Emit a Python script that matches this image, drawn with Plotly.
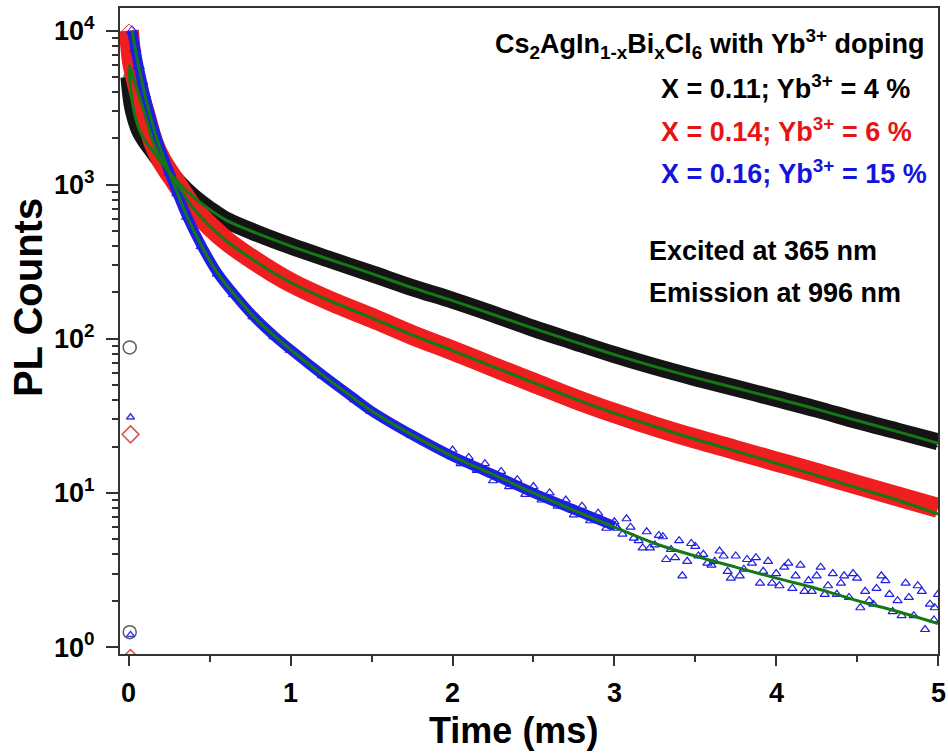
import plotly.graph_objects as go

# values (time in ms, PL counts)
black_t = [0.0, 0.02, 0.04, 0.07, 0.1, 0.15, 0.2, 0.3, 0.4, 0.5, 0.6, 0.8, 1.0, 1.25, 1.5, 1.75,
           2.0, 2.25, 2.5, 2.75, 3.0, 3.25, 3.5, 3.75, 4.0, 4.25, 4.5, 4.75, 5.0]
black_y = [5000, 3300, 2700, 2200, 1950, 1650, 1400, 1050, 830, 690, 590, 480, 400, 325, 265, 215,
           178, 145, 117, 96, 79, 66, 56, 48, 41, 35, 29.5, 25.2, 21.5]
black_fit_y = [5600, 3500, 2750, 2200, 1930, 1640, 1400, 1050, 830, 690, 590, 480, 400, 325, 265, 215,
               177, 144, 117, 96, 79, 66, 56, 48, 41, 35, 29.5, 25, 21]

red_t = [0.0, 0.01, 0.02, 0.04, 0.07, 0.1, 0.15, 0.2, 0.3, 0.4, 0.5, 0.6, 0.8, 1.0, 1.25, 1.5, 1.75,
         2.0, 2.25, 2.5, 2.75, 3.0, 3.25, 3.5, 3.75, 4.0, 4.25, 4.5, 4.75, 5.0]
red_y = [10000, 7600, 6200, 5000, 3700, 2900, 1900, 1450, 1000, 700, 540, 435, 310, 232, 175, 137, 106,
         84, 66, 52, 41, 33, 27, 22.5, 19, 16, 13.5, 11.3, 9.5, 8]
red_fit_y = [6000, 5600, 5200, 4500, 3600, 2850, 1900, 1450, 1000, 700, 540, 435, 310, 232, 175, 137, 106,
             84, 66, 52, 41, 33, 27, 22.3, 18.7, 15.6, 13, 10.8, 9, 7.3]

blue_t = [0.02, 0.04, 0.06, 0.08, 0.1, 0.13, 0.16, 0.2, 0.25, 0.3, 0.36, 0.45, 0.55, 0.65, 0.77, 0.9,
          1.0, 1.2, 1.4, 1.5, 1.75, 2.0, 2.25, 2.5, 2.75, 3.0]
blue_y = [10000, 7600, 5900, 4700, 3800, 2850, 2200, 1650, 1200, 880, 620, 400, 265, 195, 140, 104,
          85, 58, 40.5, 34, 23.8, 17.3, 13.2, 10, 7.8, 6.1]
blue_fit_t = [0.02, 0.04, 0.06, 0.08, 0.1, 0.13, 0.16, 0.2, 0.25, 0.3, 0.36, 0.45, 0.55, 0.65, 0.77, 0.9,
              1.0, 1.2, 1.4, 1.5, 1.75, 2.0, 2.25, 2.5, 2.75, 3.0, 3.25, 3.5, 3.75, 4.0, 4.25, 4.5,
              4.75, 5.0]
blue_fit_y = [10000, 7600, 5900, 4700, 3800, 2850, 2200, 1650, 1200, 880, 620, 400, 265, 195, 140, 104,
              85, 58, 40.5, 34, 23.8, 17.3, 13.2, 10, 7.7, 6.0, 4.7, 3.9, 3.3, 2.8, 2.4, 2.0, 1.7, 1.42]

# noisy tail of the blue decay
blue_tail_t = [2.0, 2.05, 2.1, 2.15, 2.2, 2.25, 2.3, 2.35, 2.4, 2.45, 2.5, 2.55, 2.6, 2.65, 2.7,
               2.75, 2.8, 2.85, 2.9, 2.95,
               3.0, 3.05, 3.1, 3.15, 3.2, 3.25, 3.3, 3.35, 3.4, 3.45, 3.5, 3.55, 3.6, 3.65, 3.7,
               3.75, 3.8, 3.85, 3.9, 3.95, 4.0, 4.05, 4.1, 4.15, 4.2, 4.25, 4.3, 4.35, 4.4, 4.45,
               4.5, 4.55, 4.6, 4.65, 4.7, 4.75, 4.8, 4.85, 4.9, 4.95, 5.0,
               3.02, 3.12, 3.22, 3.32, 3.42, 3.52, 3.62, 3.72, 3.82, 3.92, 4.02, 4.12, 4.22, 4.32,
               4.42, 4.52, 4.62, 4.72, 4.82, 4.92, 4.98,
               3.075, 3.175, 3.275, 3.375, 3.475, 3.575, 3.675, 3.775, 3.875, 3.975, 4.075, 4.175,
               4.275, 4.375, 4.475, 4.575, 4.675, 4.775, 4.875, 4.975]
blue_tail_y = [19, 15.5, 17, 14, 15.5, 12, 13.8, 11, 12.2, 9.8, 11, 9, 10, 8.2, 9,
               7.2, 8.2, 6.6, 7.4, 5.9,
               6.5, 5.4, 6.0, 4.9, 5.6, 4.6, 5.2, 4.3, 4.9, 3.6, 4.5, 4.0, 3.4, 4.2, 3.1,
               3.9, 3.2, 3.5, 2.6, 3.6, 3.0, 3.3, 2.4, 3.4, 2.7, 2.9, 2.2, 3.0, 2.6, 2.1,
               2.8, 2.3, 1.9, 2.9, 2.2, 2.0, 2.6, 1.6, 2.3, 1.9, 2.2,
               5.9, 5.1, 4.4, 3.7, 2.9, 3.9, 3.6, 2.8, 3.7, 3.1, 2.5, 2.9, 2.3, 2.5,
               2.9, 1.8, 2.4, 1.7, 2.1, 1.3, 1.8,
               6.8, 4.4, 5.3, 3.8, 4.7, 3.5, 3.9, 2.9, 3.8, 2.6, 3.5, 2.3,
               3.3, 2.2, 3.0, 2.0, 2.7, 1.6, 2.5, 1.5]

# stray points at t ~ 0
stray_black_t = [0.005, 0.005]
stray_black_y = [88, 1.25]
stray_red_t = [0.01, 0.01]
stray_red_y = [24, 0.85]
stray_blue_t = [0.01, 0.01]
stray_blue_y = [31, 1.2]

xtick_vals = [0, 1, 2, 3, 4, 5]
xtick_minor = [0.5, 1.5, 2.5, 3.5, 4.5]

FONT = "Liberation Sans"
GREEN = "rgb(20,120,20)"


def px_to_paper(px, py):
    # plot area spans x 120..938, y 6..654 in page pixels
    return (px - 120) / 818, 1 - (py - 6) / 648


fig = go.Figure()

series = [
    (black_t, black_y, "rgb(20,20,20)", "circle-open", 17),
    (red_t, red_y, "rgb(240,30,30)", "diamond-open", 20),
    (blue_t, blue_y, "rgb(30,30,230)", "triangle-up-open", 10),
]
for t, y, color, sym, band in series:
    fig.add_trace(go.Scatter(x=t, y=y, mode="lines+markers", line=dict(color=color, width=band, shape="spline"),
                             marker=dict(symbol=sym, size=10, color=color, line=dict(width=1)),
                             showlegend=False))

fig.add_trace(go.Scatter(x=blue_tail_t, y=blue_tail_y, mode="markers",
                         marker=dict(symbol="triangle-up-open", size=8, color="rgb(30,30,230)", line=dict(width=1.2)),
                         showlegend=False))

for t, y, color, sym in [(stray_black_t, stray_black_y, "rgb(90,90,90)", "circle-open"),
                         (stray_red_t, stray_red_y, "rgb(220,80,80)", "diamond-open"),
                         (stray_blue_t, stray_blue_y, "rgb(60,60,220)", "triangle-up-open")]:
    fig.add_trace(go.Scatter(x=t, y=y, mode="markers", cliponaxis=True,
                             marker=dict(symbol=sym, size=13 if sym != "triangle-up-open" else 7, color=color,
                                         line=dict(width=1.5)),
                             showlegend=False))

for t, y in [(black_t, black_fit_y), (red_t, red_fit_y), (blue_fit_t, blue_fit_y)]:
    fig.add_trace(go.Scatter(x=t, y=y, mode="lines", line=dict(color=GREEN, width=3, shape="spline"),
                             showlegend=False))

ytickvals = [1, 10, 100, 1000, 10000]
yticktext = ["10<sup>%d</sup>" % i for i in range(5)]
yminor = [m * 10 ** e for e in range(-1, 5) for m in range(2, 10)]

fig.update_layout(
    width=948, height=753,
    margin=dict(l=120, r=10, t=6, b=99),
    plot_bgcolor="white", paper_bgcolor="white",
    font=dict(family=FONT, color="black", weight="bold"),
    xaxis=dict(range=[-0.055, 5.0], tickvals=xtick_vals, showticklabels=False, ticks="outside", ticklen=10,
               tickwidth=2, tickcolor="#333", showline=True, linecolor="#333", linewidth=2, mirror=True,
               showgrid=False, zeroline=False,
               minor=dict(tickvals=xtick_minor, ticks="outside", ticklen=6, tickwidth=2, tickcolor="#333")),
    yaxis=dict(type="log", range=[-0.045, 4.147], tickvals=ytickvals, ticktext=yticktext, ticks="outside",
               ticklen=12, tickwidth=2, tickcolor="#333", showline=True, linecolor="#333", linewidth=2,
               mirror=True, showgrid=False, zeroline=False, tickfont=dict(size=27, family=FONT, weight="bold"),
               ticklabelstandoff=6,
               minor=dict(tickvals=yminor, ticks="outside", ticklen=6, tickwidth=2, tickcolor="#333")),
)

# x tick labels, placed on the data x scale below the axis
_, ylab = px_to_paper(0, 693)
for v in xtick_vals:
    fig.add_annotation(text=str(v), xref="x", yref="paper", x=v, y=ylab, xanchor="center", yanchor="middle",
                       showarrow=False, font=dict(size=27, family=FONT, color="black", weight="bold"))

# axis titles
xt, yt = px_to_paper(513, 731)
fig.add_annotation(text="Time (ms)", xref="paper", yref="paper", x=xt, y=yt,
                   xanchor="center", yanchor="middle", showarrow=False,
                   font=dict(size=36, family=FONT, color="black", weight="bold"))
xt, yt = px_to_paper(28, 297)
fig.add_annotation(text="PL Counts", xref="paper", yref="paper", x=xt, y=yt, textangle=-90,
                   xanchor="center", yanchor="middle", showarrow=False,
                   font=dict(size=40, family=FONT, color="black", weight="bold"))

notes = [
    ("Cs<sub>2</sub>AgIn<sub>1-x</sub>Bi<sub>x</sub>Cl<sub>6</sub> with Yb<sup>3+</sup> doping", 493, 42, "black"),
    ("X = 0.11; Yb<sup>3+</sup> = 4 %", 659, 85, "black"),
    ("X = 0.14; Yb<sup>3+</sup> = 6 %", 659, 128, "rgb(230,20,20)"),
    ("X = 0.16; Yb<sup>3+</sup> = 15 %", 659, 171, "rgb(20,20,220)"),
    ("Excited at 365 nm", 647, 250, "black"),
    ("Emission at 996 nm", 647, 292, "black"),
]
for text, px, py, color in notes:
    xn, yn = px_to_paper(px, py)
    fig.add_annotation(text=text, xref="paper", yref="paper", x=xn, y=yn, xanchor="left", yanchor="middle",
                       showarrow=False, font=dict(size=27, family=FONT, color=color, weight="bold"))

fig.write_html("out.html", config={"displayModeBar": False},
               post_script="document.body.style.margin='0';")
